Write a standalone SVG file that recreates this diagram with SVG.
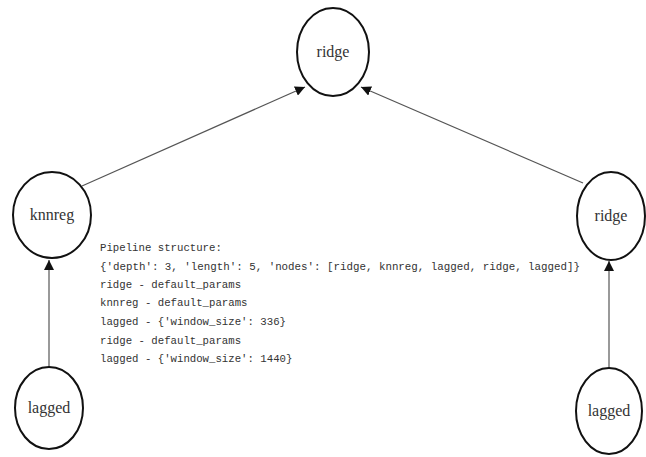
<svg xmlns="http://www.w3.org/2000/svg" width="646" height="457" viewBox="0 0 646 457">
<style>
.node ellipse{fill:#fff;stroke:#111;stroke-width:2}
.node text{font-family:"Liberation Serif",serif;font-size:16px;fill:#333;text-anchor:middle}
.edge{stroke:#555;stroke-width:1.2;fill:none;marker-end:url(#ah)}
.code{font-family:"Liberation Mono","DejaVu Sans Mono",monospace;font-size:10.7px;fill:#333}
</style>
<defs>
<marker id="ah" viewBox="0 0 10 10" refX="10" refY="5" markerWidth="10" markerHeight="10" markerUnits="userSpaceOnUse" orient="auto">
<path d="M0,0 L10,5 L0,10 z" fill="#111"/>
</marker>
</defs>
<rect width="646" height="457" fill="#fff"/>
<g id="connectors">
<line class="edge" x1="82" y1="186" x2="305" y2="87"/>
<line class="edge" x1="583" y1="183" x2="361" y2="87"/>
<line class="edge" x1="49" y1="367" x2="49" y2="260"/>
<line class="edge" x1="609" y1="368" x2="609" y2="261"/>
</g>
<g id="n_ridge_top" class="node"><ellipse cx="333" cy="52" rx="36" ry="44"/><text x="333" y="57">ridge</text></g>
<g id="n_knnreg" class="node"><ellipse cx="52" cy="215" rx="39" ry="43"/><text x="52" y="220">knnreg</text></g>
<g id="n_ridge_right" class="node"><ellipse cx="611" cy="216" rx="34" ry="44"/><text x="611" y="221">ridge</text></g>
<g id="n_lagged_left" class="node"><ellipse cx="49" cy="408" rx="34" ry="41"/><text x="49" y="413">lagged</text></g>
<g id="n_lagged_right" class="node"><ellipse cx="609" cy="411" rx="33" ry="43"/><text x="609" y="416">lagged</text></g>
<g id="pipeline_text" class="code">
<text x="100" y="251">Pipeline structure:</text>
<text x="100" y="270" textLength="480" lengthAdjust="spacingAndGlyphs">{'depth': 3, 'length': 5, 'nodes': [ridge, knnreg, lagged, ridge, lagged]}</text>
<text x="100" y="288">ridge - default_params</text>
<text x="100" y="306">knnreg - default_params</text>
<text x="100" y="325">lagged - {'window_size': 336}</text>
<text x="100" y="344">ridge - default_params</text>
<text x="100" y="362">lagged - {'window_size': 1440}</text>
</g>
</svg>
